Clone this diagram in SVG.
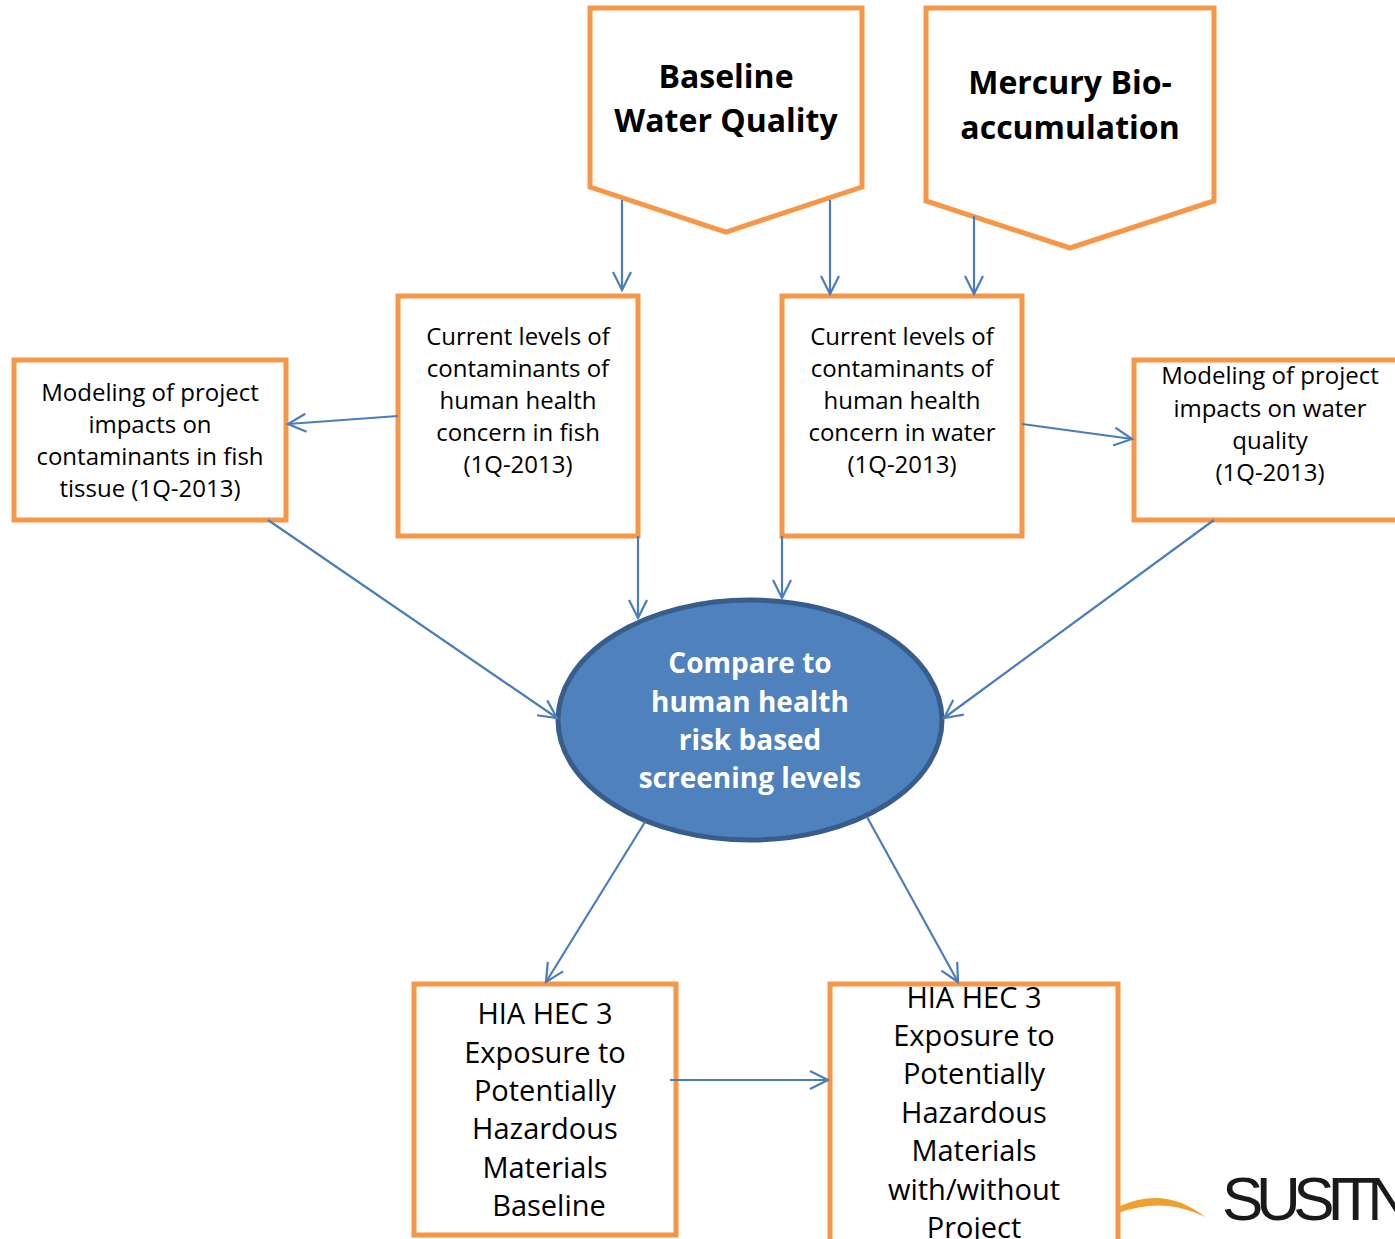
<svg xmlns="http://www.w3.org/2000/svg" width="1395" height="1239" viewBox="0 0 1395 1239">
<style>
text{font-family:"Open Sans","Noto Sans",sans-serif;text-anchor:middle;fill:#000}
.b{fill:#fff;stroke:#f79646;stroke-width:5}
.t1{font-size:24px}
.t2{font-size:29px}
.h{font-size:32px;font-weight:700}
.e{font-size:28px;font-weight:700;fill:#fff}
.c line{stroke:#4a7ebb;stroke-width:2.2;fill:none;marker-end:url(#a)}
</style>
<defs><marker id="a" markerUnits="userSpaceOnUse" markerWidth="24" markerHeight="24" refX="20" refY="12" orient="auto"><path d="M2 3L20 12L2 21" fill="none" stroke="#4a7ebb" stroke-width="2.2"/></marker></defs>
<rect width="1395" height="1239" fill="#fff"/>
<g id="logo"><path d="M1118 1207Q1165 1185 1205 1217Q1165 1196 1118 1213Z" fill="#f0a030"/><text x="1222" y="1220" style="font-family:'Liberation Sans',sans-serif;font-size:62px;text-anchor:start;fill:#1a1a1a" textLength="190">SUSITN</text></g>
<g id="n1"><path class="b" d="M590 8H862V187L726 232L590 187Z"/><text class="h" x="726" y="88">Baseline</text><text class="h" x="726" y="132">Water Quality</text></g>
<g id="n2"><path class="b" d="M926 8H1214V201L1070 248L926 201Z"/><text class="h" x="1070" y="94">Mercury Bio-</text><text class="h" x="1070" y="139">accumulation</text></g>
<g id="n3"><rect class="b" x="398" y="296" width="240" height="240"/><text class="t1" x="518" y="345">Current levels of</text><text class="t1" x="518" y="377">contaminants of</text><text class="t1" x="518" y="409">human health</text><text class="t1" x="518" y="441">concern in fish</text><text class="t1" x="518" y="473">(1Q-2013)</text></g>
<g id="n4"><rect class="b" x="782" y="296" width="240" height="240"/><text class="t1" x="902" y="345">Current levels of</text><text class="t1" x="902" y="377">contaminants of</text><text class="t1" x="902" y="409">human health</text><text class="t1" x="902" y="441">concern in water</text><text class="t1" x="902" y="473">(1Q-2013)</text></g>
<g id="n5"><rect class="b" x="14" y="360" width="272" height="160"/><text class="t1" x="150" y="401">Modeling of project</text><text class="t1" x="150" y="433">impacts on</text><text class="t1" x="150" y="465">contaminants in fish</text><text class="t1" x="150" y="497">tissue (1Q-2013)</text></g>
<g id="n6"><rect class="b" x="1134" y="360" width="272" height="160"/><text class="t1" x="1270" y="384">Modeling of project</text><text class="t1" x="1270" y="417">impacts on water</text><text class="t1" x="1270" y="449">quality</text><text class="t1" x="1270" y="481">(1Q-2013)</text></g>
<g id="n7"><ellipse cx="750" cy="720" rx="192" ry="120" fill="#4f81bd" stroke="#385d8a" stroke-width="5"/><text class="e" x="750" y="673">Compare  to</text><text class="e" x="750" y="712">human health</text><text class="e" x="750" y="750">risk based</text><text class="e" x="750" y="788">screening levels</text></g>
<g id="n8"><rect class="b" x="414" y="984" width="262" height="251"/><text class="t2" x="545" y="1024">HIA HEC 3</text><text class="t2" x="545" y="1063">Exposure to</text><text class="t2" x="545" y="1101">Potentially</text><text class="t2" x="545" y="1139">Hazardous</text><text class="t2" x="545" y="1178">Materials</text><text class="t2" x="549" y="1216">Baseline</text></g>
<g id="n9"><path class="b" d="M830 1239V984H1118V1239"/><text class="t2" x="974" y="1008">HIA HEC 3</text><text class="t2" x="974" y="1046">Exposure to</text><text class="t2" x="974" y="1084">Potentially</text><text class="t2" x="974" y="1123">Hazardous</text><text class="t2" x="974" y="1161">Materials</text><text class="t2" x="974" y="1200">with/without</text><text class="t2" x="974" y="1238">Project</text></g>
<g id="connectors" class="c">
<line x1="622" y1="200" x2="622" y2="290"/>
<line x1="830" y1="200" x2="830" y2="294"/>
<line x1="974" y1="216" x2="974" y2="294"/>
<line x1="398" y1="416" x2="288" y2="424"/>
<line x1="1022" y1="424" x2="1132" y2="439"/>
<line x1="638" y1="536" x2="638" y2="618"/>
<line x1="782" y1="536" x2="782" y2="598"/>
<line x1="268" y1="520" x2="557" y2="718"/>
<line x1="1214" y1="520" x2="944" y2="718"/>
<line x1="645" y1="822" x2="546" y2="982"/>
<line x1="867" y1="817" x2="958" y2="982"/>
<line x1="670" y1="1080" x2="828" y2="1080"/>
</g>
</svg>
